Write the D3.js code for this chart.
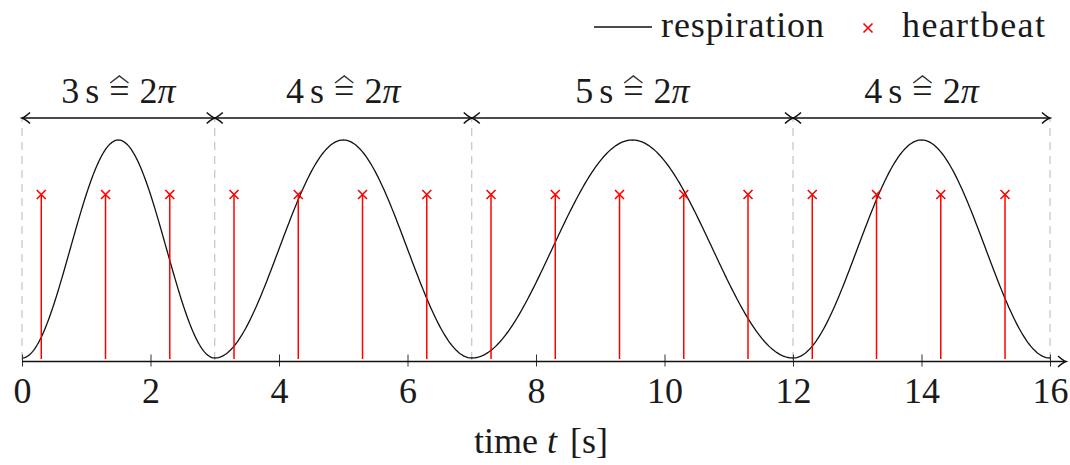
<!DOCTYPE html>
<html><head><meta charset="utf-8">
<script src="https://cdn.jsdelivr.net/npm/d3@7"></script>
<style>
body{margin:0;background:#fff}
svg text{font-family:"Liberation Serif","Times New Roman",serif;fill:#1a1a1a}
</style>
</head><body>
<svg id="c" width="1070" height="465"></svg>
<script>
// ---- data ----
const xTicks = [0, 2, 4, 6, 8, 10, 12, 14, 16];
const breathStart = [0, 3, 7, 12];     // s
const breathEnd = [3, 7, 12, 16];      // s
const breathLabel = ["3", "4", "5", "4"]; // breath duration in s (≙ 2π)
const heartbeatTimes = [0.3, 1.3, 2.3, 3.3, 4.3, 5.3, 6.3, 7.3, 8.3, 9.3, 10.3, 11.3, 12.3, 13.3, 14.3, 15.3];
const heartbeatLevel = [0.75, 0.75, 0.75, 0.75, 0.75, 0.75, 0.75, 0.75, 0.75, 0.75, 0.75, 0.75, 0.75, 0.75, 0.75, 0.75];
const legendLabels = ["respiration", "heartbeat"];

// ---- layout ----
const svg = d3.select("#c");
const x = d3.scaleLinear().domain([0, 16]).range([22, 1050]);
const y = d3.scaleLinear().domain([0, 1]).range([358, 140]);
const axisY = 361.5;
const arrowY = 118;

// dashed boundaries
const bounds = breathStart.concat([breathEnd[breathEnd.length - 1]]);
svg.append("g").selectAll("line").data(bounds).join("line")
  .attr("x1", d => x(d)).attr("x2", d => x(d))
  .attr("y1", arrowY).attr("y2", axisY)
  .attr("stroke", "#b8b8b8").attr("stroke-width", 1)
  .attr("stroke-dasharray", "8,6").attr("stroke-dashoffset", -10);

// respiration curve (raised cosine per breath)
const line = d3.line().x(d => x(d[0])).y(d => y(d[1]));
const curvePts = [];
breathStart.forEach((s, i) => {
  const T = breathEnd[i] - s;
  d3.range(0, 201).forEach(k => {
    const p = k / 200;
    curvePts.push([s + p * T, (1 - Math.cos(2 * Math.PI * p)) / 2]);
  });
});
svg.append("path").datum(curvePts).attr("d", line)
  .attr("fill", "none").attr("stroke", "#111").attr("stroke-width", 1.3);

// heartbeat stems
const hb = heartbeatTimes.map((t, i) => [t, heartbeatLevel[i]]);
svg.append("g").selectAll("line").data(hb).join("line")
  .attr("x1", d => x(d[0])).attr("x2", d => x(d[0]))
  .attr("y1", y(0) + 1).attr("y2", d => y(d[1]))
  .attr("stroke", "#ff0000").attr("stroke-width", 1.5);
const cross = (g, cx, cy, r) => g.append("path")
  .attr("d", `M${cx - r},${cy - r}L${cx + r},${cy + r}M${cx - r},${cy + r}L${cx + r},${cy - r}`)
  .attr("stroke", "#ff0000").attr("stroke-width", 1.6).attr("fill", "none");
const mk = svg.append("g");
hb.forEach(d => cross(mk, x(d[0]), y(d[1]), 4.5));

// x axis
const ax = svg.append("g").attr("transform", `translate(0,${axisY})`)
  .call(d3.axisBottom(x).tickValues(xTicks).tickFormat(d3.format("d")).tickSize(0));
ax.select(".domain").remove();
ax.selectAll(".tick line").attr("y1", -7).attr("y2", 5).attr("stroke", "#333").attr("stroke-width", 1);
ax.selectAll(".tick text").attr("y", 41.5).attr("dy", null)
  .attr("font-size", 36).attr("font-family", "Liberation Serif");
svg.append("line").attr("x1", x(0)).attr("x2", 1064).attr("y1", axisY).attr("y2", axisY)
  .attr("stroke", "#111").attr("stroke-width", 1.6);
const headR = (tx, ty) => `M${tx - 8},${ty - 5.5}Q${tx - 3},${ty - 1} ${tx},${ty}Q${tx - 3},${ty + 1} ${tx - 8},${ty + 5.5}`;
const headL = (tx, ty) => `M${tx + 8},${ty - 5.5}Q${tx + 3},${ty - 1} ${tx},${ty}Q${tx + 3},${ty + 1} ${tx + 8},${ty + 5.5}`;
svg.append("path").attr("d", headR(1066, axisY)).attr("fill", "none").attr("stroke", "#111").attr("stroke-width", 1.5);

// axis title
const tt = svg.append("text").attr("x", x(8) + 5).attr("y", 453).attr("text-anchor", "middle").attr("font-size", 36);
tt.append("tspan").text("time ");
tt.append("tspan").attr("font-style", "italic").text("t");
tt.append("tspan").attr("dx", 4).text(" [s]");

// breath duration arrows and labels
breathStart.forEach((s, i) => {
  const x0 = x(s), x1 = x(breathEnd[i]);
  svg.append("line").attr("x1", x0).attr("x2", x1).attr("y1", arrowY).attr("y2", arrowY)
    .attr("stroke", "#111").attr("stroke-width", 1.6);
  svg.append("path").attr("d", headL(x0, arrowY) + headR(x1, arrowY))
    .attr("fill", "none").attr("stroke", "#111").attr("stroke-width", 1.6);
  const t = svg.append("text").attr("x", (x0 + x1) / 2).attr("y", 103)
    .attr("text-anchor", "middle").attr("font-size", 36);
  t.append("tspan").text(breathLabel[i]);
  t.append("tspan").attr("dx", 6).text("s");
  t.append("tspan").attr("dx", 10).text("=");
  t.append("tspan").attr("dx", 10).text("2");
  t.append("tspan").attr("font-style", "italic").text("π");
  // hat over "=" (≙)
  const node = t.node();
  const n = breathLabel[i].length + 1;
  const a = node.getStartPositionOfChar(n), b = node.getEndPositionOfChar(n);
  const cx = (a.x + b.x) / 2, w = (b.x - a.x) / 2 - 1;
  svg.append("path").attr("d", `M${cx - w},${103 - 20}L${cx},${103 - 27}L${cx + w},${103 - 20}`)
    .attr("fill", "none").attr("stroke", "#333").attr("stroke-width", 1.4);
});

// legend
svg.append("line").attr("x1", 594).attr("x2", 652).attr("y1", 27).attr("y2", 27)
  .attr("stroke", "#111").attr("stroke-width", 1.3);
svg.append("text").attr("x", 661).attr("y", 37).attr("font-size", 36)
  .attr("textLength", 163).attr("lengthAdjust", "spacing").text(legendLabels[0]);
cross(svg, 868, 28, 4.5);
svg.append("text").attr("x", 902).attr("y", 37).attr("font-size", 36)
  .attr("textLength", 143).attr("lengthAdjust", "spacing").text(legendLabels[1]);
</script>
</body></html>
